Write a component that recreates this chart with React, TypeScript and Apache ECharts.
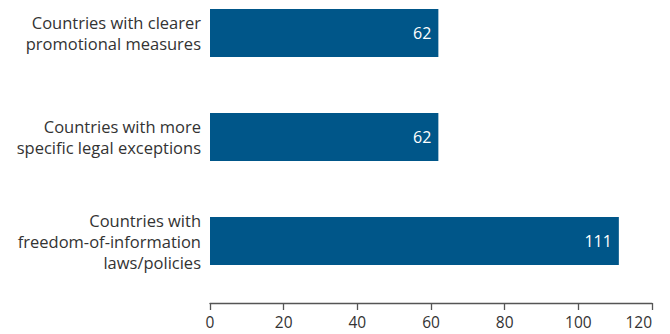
import React, { useEffect, useRef } from "react";
import * as echarts from "echarts";

const categories = [
  "Countries with\nfreedom-of-information\nlaws/policies",
  "Countries with more\nspecific legal exceptions",
  "Countries with clearer\npromotional measures",
];
const values = [111, 62, 62];
const xTicks = { min: 0, max: 120, interval: 20 };

export default function App() {
  const ref = useRef<HTMLDivElement>(null);
  useEffect(() => {
    if (!ref.current) return;
    const chart = echarts.init(ref.current, null, { renderer: "svg" });
    const font = "'Open Sans', 'Noto Sans', sans-serif";
    chart.setOption({
      animation: false,
      grid: { left: 210, right: 18, top: 33, bottom: 93, containLabel: false },
      xAxis: {
        type: "value",
        min: xTicks.min,
        max: xTicks.max,
        interval: xTicks.interval,
        offset: 62,
        axisLine: { show: true, lineStyle: { color: "#555", width: 1.3 } },
        axisTick: { show: true, length: 7, lineStyle: { color: "#555", width: 1.3 } },
        splitLine: { show: false },
        axisLabel: {
          color: "#333",
          fontSize: 15.5,
          fontFamily: font,
          margin: 11,
          alignMaxLabel: "right",
        },
      },
      yAxis: {
        type: "category",
        data: categories,
        boundaryGap: false,
        axisLine: { show: false },
        axisTick: { show: false },
        splitLine: { show: false },
        axisLabel: {
          color: "#333",
          fontSize: 16.5,
          fontFamily: font,
          lineHeight: 21,
          margin: 9,
          align: "right",
        },
      },
      series: [
        {
          type: "bar",
          data: values,
          barWidth: 48,
          itemStyle: { color: "#005689" },
          label: {
            show: true,
            position: "insideRight",
            distance: 7,
            color: "#fff",
            fontSize: 16,
            fontFamily: font,
          },
        },
      ],
    });
    return () => chart.dispose();
  }, []);
  return <div ref={ref} style={{ width: 670, height: 334, position: "absolute", left: 0, top: 0 }} />;
}
